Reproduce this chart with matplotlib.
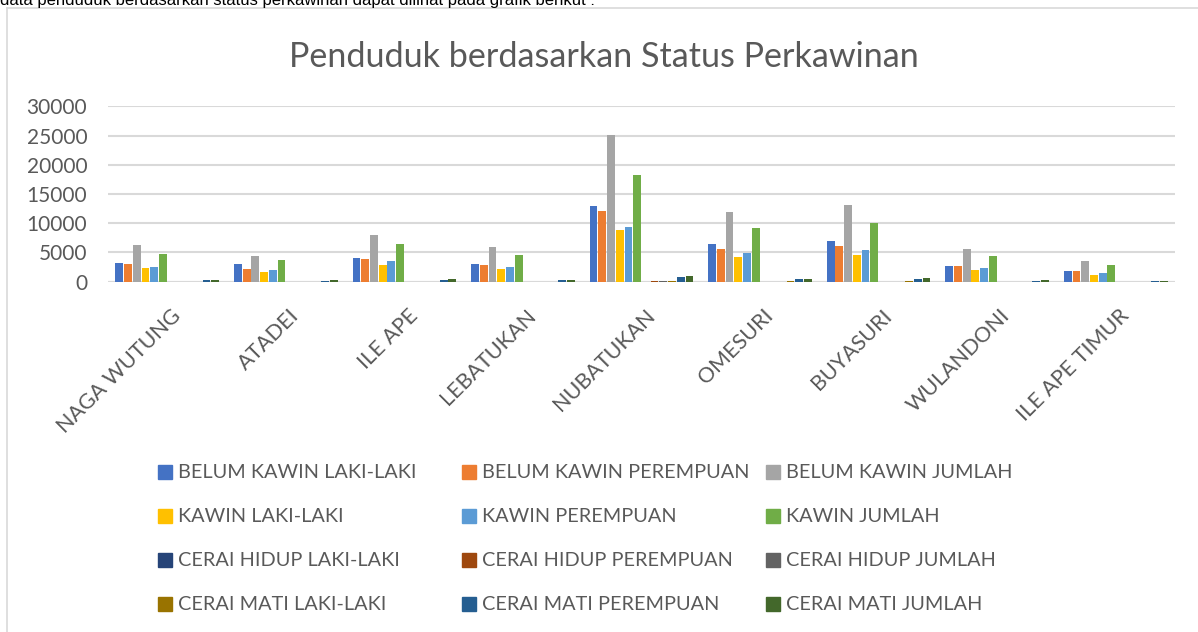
import numpy as np
import matplotlib
matplotlib.use("Agg")
import matplotlib.pyplot as plt
from matplotlib.patches import Rectangle
from matplotlib.lines import Line2D
from matplotlib.transforms import ScaledTranslation

villages = ["NAGA WUTUNG", "ATADEI", "ILE APE", "LEBATUKAN", "NUBATUKAN",
            "OMESURI", "BUYASURI", "WULANDONI", "ILE APE TIMUR"]

series_names = ["BELUM KAWIN LAKI-LAKI", "BELUM KAWIN PEREMPUAN", "BELUM KAWIN JUMLAH",
                "KAWIN LAKI-LAKI", "KAWIN PEREMPUAN", "KAWIN JUMLAH",
                "CERAI HIDUP LAKI-LAKI", "CERAI HIDUP PEREMPUAN", "CERAI HIDUP JUMLAH",
                "CERAI MATI LAKI-LAKI", "CERAI MATI PEREMPUAN", "CERAI MATI JUMLAH"]

belum_kawin_l = [3200, 3000, 4050, 3000, 12950, 6450, 6950, 2700, 1800]
belum_kawin_p = [3000, 2150, 3900, 2850, 12100, 5600, 6100, 2700, 1800]
belum_kawin_j = [6250, 4400, 8000, 5950, 25100, 11900, 13100, 5600, 3550]
kawin_l = [2350, 1650, 2850, 2150, 8850, 4200, 4550, 2000, 1150]
kawin_p = [2500, 2000, 3550, 2500, 9350, 4900, 5400, 2350, 1500]
kawin_j = [4750, 3700, 6450, 4550, 18250, 9200, 10050, 4400, 2850]
cerai_hidup_l = [10, 10, 10, 10, 20, 10, 10, 10, 10]
cerai_hidup_p = [20, 15, 20, 20, 50, 20, 20, 15, 15]
cerai_hidup_j = [30, 25, 30, 30, 60, 30, 30, 25, 25]
cerai_mati_l = [30, 30, 30, 30, 50, 40, 60, 30, 20]
cerai_mati_p = [260, 60, 285, 285, 800, 420, 456, 70, 70]
cerai_mati_j = [290, 250, 456, 300, 970, 470, 627, 285, 80]

values = [belum_kawin_l, belum_kawin_p, belum_kawin_j, kawin_l, kawin_p, kawin_j,
          cerai_hidup_l, cerai_hidup_p, cerai_hidup_j, cerai_mati_l, cerai_mati_p, cerai_mati_j]

colors = ["#4472C4", "#ED7D31", "#A5A5A5", "#FFC000", "#5B9BD5", "#70AD47",
          "#264478", "#9E480E", "#636363", "#997300", "#255E91", "#43682B"]

W, H = 1198, 632
txt = "#595959"
font = "Lato"

fig = plt.figure(figsize=(W / 100, H / 100), dpi=100)
ax = fig.add_axes([108 / W, 1 - 281.7 / H, 1067 / W, 175.4 / H])

x = np.arange(len(villages))
n = len(series_names)
span = 1 - 2 * 7 / 118.6
w = span / n
for k in range(n):
    pos = x - span / 2 + (k + 0.5) * w
    ax.bar(pos, values[k], width=w * 0.9, color=colors[k], zorder=3)

ax.set_xlim(-0.5, len(villages) - 0.5)
ax.set_ylim(0, 30000)
ax.set_yticks(np.arange(0, 30001, 5000))
ax.yaxis.grid(True, color="#D9D9D9", lw=1.5, zorder=0)
ax.set_axisbelow(True)
for s in ax.spines.values():
    s.set_visible(False)
ax.axhline(0, color="#D9D9D9", lw=1.5, zorder=1)
ax.tick_params(axis="both", length=0, colors=txt)
ax.tick_params(axis="y", pad=15)
for lab in ax.get_yticklabels():
    lab.set_fontfamily(font)
    lab.set_fontsize(15)

ax.set_xticks(x)
ax.set_xticklabels(villages, rotation=45, ha="right", va="top",
                   rotation_mode="anchor", fontsize=15.5, family=font, color=txt)
ax.tick_params(axis="x", pad=17)
for lab in ax.get_xticklabels():
    lab.set_transform(lab.get_transform() + ScaledTranslation(3 / 100, 0, fig.dpi_scale_trans))

fig.text(604 / W, 1 - 57 / H, "Penduduk berdasarkan Status Perkawinan",
         ha="center", va="center", fontsize=24.6, family=font, color=txt)

# legend, three columns like excel
col_x = [158, 462, 766]
for k, name in enumerate(series_names):
    c, r = k % 3, k // 3
    yc = 472 + 44 * r
    fig.add_artist(Rectangle((col_x[c] / W, 1 - (yc + 7) / H), 14 / W, 14 / H,
                             transform=fig.transFigure, color=colors[k]))
    fig.text((col_x[c] + 20) / W, 1 - yc / H, name, ha="left", va="center",
             fontsize=14.3, family=font, color=txt)

# chart frame (cut off at right and bottom)
fig.add_artist(Line2D([7 / W, 1], [1 - 8 / H, 1 - 8 / H], transform=fig.transFigure,
                      color="#D9D9D9", lw=1.2))
fig.add_artist(Line2D([7 / W, 7 / W], [0, 1 - 8 / H], transform=fig.transFigure,
                      color="#D9D9D9", lw=1.2))

# cut off sentence above the chart
fig.text(0, 1 - 5 / H, "data penduduk berdasarkan status perkawinan dapat dilihat pada grafik berikut :",
         ha="left", va="baseline", fontsize=12, family="Liberation Sans", color="black")

fig.savefig("out.png", dpi=100)
